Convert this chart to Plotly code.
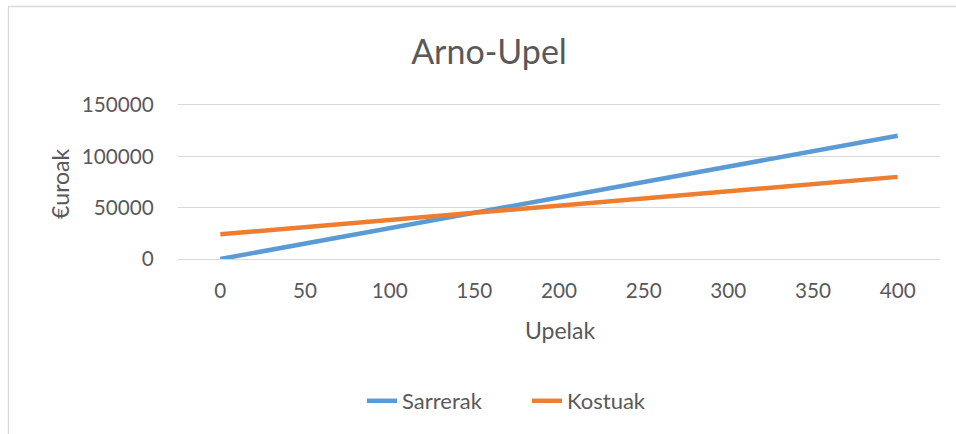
import plotly.graph_objects as go

upelak = [0, 50, 100, 150, 200, 250, 300, 350, 400]
sarrerak = [0, 15000, 30000, 45000, 60000, 75000, 90000, 105000, 120000]
kostuak = [24000, 31000, 38000, 45000, 52000, 59000, 66000, 73000, 80000]
y_ticks = [0, 50000, 100000, 150000]

FONT = "Lato"
GREY = "#595959"
W, H = 956, 434
L, R, T, B = 178, 16, 105, 175
pw = W - L - R
ph = H - T - B

fig = go.Figure()
fig.add_trace(go.Scatter(x=upelak, y=sarrerak, mode="lines", name="Sarrerak",
                         line=dict(color="#5B9BD5", width=4.5)))
fig.add_trace(go.Scatter(x=upelak, y=kostuak, mode="lines", name="Kostuak",
                         line=dict(color="#ED7D31", width=4.5)))

def px_x(p):
    return (p - L) / pw

def px_y(p):
    return (H - B - p) / ph

fig.update_layout(
    width=W, height=H,
    margin=dict(l=L, r=R, t=T, b=B),
    paper_bgcolor="white", plot_bgcolor="white",
    font=dict(family=FONT, color=GREY, size=21),
    title=dict(text="Arno-Upel", font=dict(family=FONT, size=34, color=GREY),
               x=489 / W, xref="container", xanchor="center",
               y=1 - 52 / H, yref="container", yanchor="middle"),
    xaxis=dict(range=[-25, 425], tickvals=upelak, ticktext=[str(v) for v in upelak],
               showgrid=False, zeroline=False,
               showline=True, mirror=True, linecolor="#D9D9D9", linewidth=1.3,
               ticks="outside", ticklen=13, tickcolor="rgba(0,0,0,0)",
               tickfont=dict(family=FONT, size=20.7, color=GREY), fixedrange=True),
    yaxis=dict(range=[0, 150000], tickvals=y_ticks, ticktext=[str(v) for v in y_ticks],
               showgrid=True, gridcolor="#D9D9D9", gridwidth=1.3,
               zeroline=False, showline=False,
               ticks="outside", ticklen=19, tickcolor="rgba(0,0,0,0)",
               tickfont=dict(family=FONT, size=20.7, color=GREY), fixedrange=True),
    showlegend=True,
    legend=dict(orientation="h", xref="container", x=362 / W, xanchor="left",
                yref="container", y=1 - 401 / H, yanchor="middle",
                font=dict(family=FONT, size=22, color=GREY),
                entrywidth=120, entrywidthmode="pixels",
                bgcolor="rgba(0,0,0,0)"),
    shapes=[dict(type="rect", xref="paper", yref="paper",
                 x0=px_x(8.5), x1=px_x(975), y0=px_y(6.5), y1=px_y(460),
                 line=dict(color="#D9D9D9", width=1.3), fillcolor="rgba(0,0,0,0)",
                 layer="below")],
    annotations=[
        dict(text="€uroak", xref="paper", yref="paper", x=px_x(60), y=px_y(183),
             showarrow=False, textangle=-90, xanchor="center", yanchor="middle",
             font=dict(family=FONT, size=23, color=GREY)),
        dict(text="Upelak", xref="paper", yref="paper", x=px_x(560), y=px_y(330),
             showarrow=False, xanchor="center", yanchor="middle",
             font=dict(family=FONT, size=23, color=GREY)),
    ],
)

fig.write_html("out.html", config={"displayModeBar": False})

with open("out.html", "r", encoding="utf-8") as f:
    html = f.read()
html = html.replace("<head>", "<head><style>html,body{margin:0;padding:0;overflow:hidden;}</style>", 1)
with open("out.html", "w", encoding="utf-8") as f:
    f.write(html)
